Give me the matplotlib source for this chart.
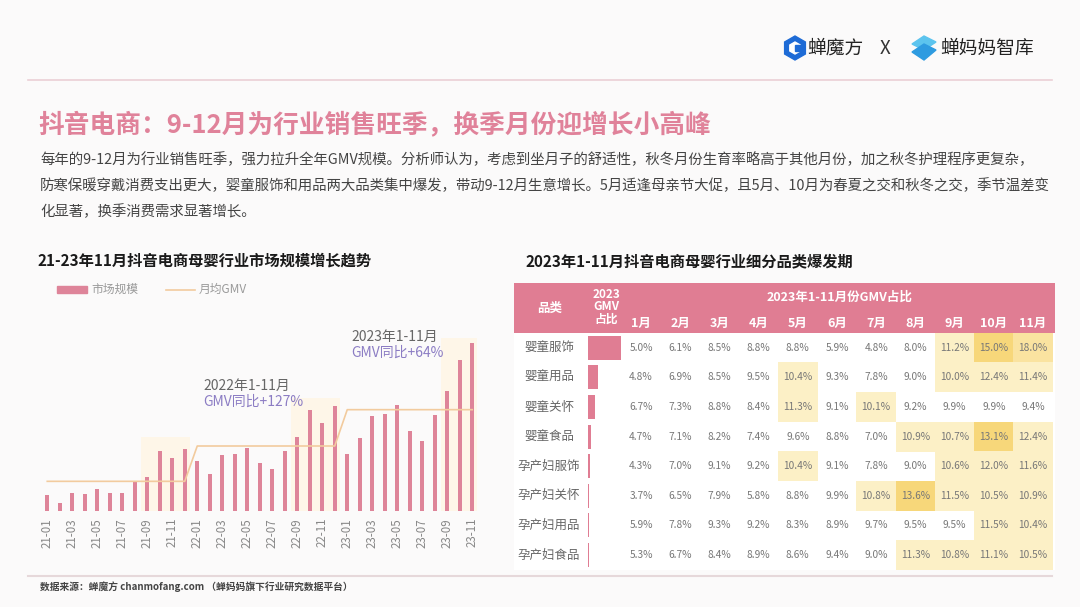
import matplotlib
matplotlib.use("Agg")
import matplotlib.pyplot as plt
from matplotlib.patches import Rectangle, RegularPolygon, Polygon

plt.rcParams['font.family'] = ['Noto Sans CJK SC', 'DejaVu Sans']

# ---- data: left chart (bar heights, arbitrary units)
months = ['21-01', '21-02', '21-03', '21-04', '21-05', '21-06', '21-07', '21-08', '21-09', '21-10', '21-11', '21-12',
          '22-01', '22-02', '22-03', '22-04', '22-05', '22-06', '22-07', '22-08', '22-09', '22-10', '22-11', '22-12',
          '23-01', '23-02', '23-03', '23-04', '23-05', '23-06', '23-07', '23-08', '23-09', '23-10', '23-11']
market = [47, 25, 54, 52, 65, 53, 53, 89, 103, 179, 159, 187,
          151, 110, 167, 172, 190, 144, 125, 179, 222, 304, 265, 316,
          172, 218, 285, 292, 317, 240, 210, 288, 360, 454, 504]
avg_gmv = [89, 195, 304]            # monthly average per year
year_first = [0, 12, 24]            # index of first month of each year
year_last = [11, 23, 34]
peak_first = [8, 20, 32]            # shaded peak seasons (Sep-Dec)
peak_last = [11, 23, 34]
peak_top = [222, 340, 520]

# ---- data: right table
categories = ['婴童服饰', '婴童用品', '婴童关怀', '婴童食品', '孕产妇服饰', '孕产妇关怀', '孕产妇用品', '孕产妇食品']
gmv_share = [57, 17, 12, 5.7, 4.0, 1.7, 1.2, 0.9]
month_cols = ['1月', '2月', '3月', '4月', '5月', '6月', '7月', '8月', '9月', '10月', '11月']
shares = [
    [5.0, 6.1, 8.5, 8.8, 8.8, 5.9, 4.8, 8.0, 11.2, 15.0, 18.0],
    [4.8, 6.9, 8.5, 9.5, 10.4, 9.3, 7.8, 9.0, 10.0, 12.4, 11.4],
    [6.7, 7.3, 8.8, 8.4, 11.3, 9.1, 10.1, 9.2, 9.9, 9.9, 9.4],
    [4.7, 7.1, 8.2, 7.4, 9.6, 8.8, 7.0, 10.9, 10.7, 13.1, 12.4],
    [4.3, 7.0, 9.1, 9.2, 10.4, 9.1, 7.8, 9.0, 10.6, 12.0, 11.6],
    [3.7, 6.5, 7.9, 5.8, 8.8, 9.9, 10.8, 13.6, 11.5, 10.5, 10.9],
    [5.9, 7.8, 9.3, 9.2, 8.3, 8.9, 9.7, 9.5, 9.5, 11.5, 10.4],
    [5.3, 6.7, 8.4, 8.9, 8.6, 9.4, 9.0, 11.3, 10.8, 11.1, 10.5],
]

PINK = '#E07D93'
BAR = '#DE8499'
W, H = 1080, 607

fig = plt.figure(figsize=(10.8, 6.07), dpi=100, facecolor='#FBFAFA')
bg = fig.add_axes([0, 0, 1, 1])
bg.set_xlim(0, W)
bg.set_ylim(H, 0)
bg.axis('off')

# header / logos
bg.add_patch(RegularPolygon((795, 48), 6, radius=12, color='#1E6BD6'))
bg.add_patch(RegularPolygon((795, 48), 6, radius=6, color='white'))
bg.add_patch(Rectangle((795, 45), 8, 6, color='#1E6BD6'))
bg.text(807, 48, '蝉魔方', fontsize=13.5, color='#222222', va='center', ha='left', fontweight='medium')
bg.text(885, 48, 'X', fontsize=13.5, color='#333333', va='center', ha='center', fontweight='light')
bg.add_patch(Polygon([[912, 44], [924, 36], [936, 42], [924, 50]], color='#5CC4EE'))
bg.add_patch(Polygon([[912, 52], [924, 44], [936, 50], [924, 60]], color='#2E9BE0'))
bg.text(940, 48, '蝉妈妈智库', fontsize=13.5, color='#222222', va='center', ha='left', fontweight='medium')
bg.plot([28, 1052], [80, 80], color='#EBCFD5', lw=1.2)

bg.text(38, 125, '抖音电商：9-12月为行业销售旺季，换季月份迎增长小高峰', fontsize=18.5,
        color='#E0829A', fontweight='bold', va='center', ha='left')
para = ['每年的9-12月为行业销售旺季，强力拉升全年GMV规模。分析师认为，考虑到坐月子的舒适性，秋冬月份生育率略高于其他月份，加之秋冬护理程序更复杂，',
        '防寒保暖穿戴消费支出更大，婴童服饰和用品两大品类集中爆发，带动9-12月生意增长。5月适逢母亲节大促，且5月、10月为春夏之交和秋冬之交，季节温差变',
        '化显著，换季消费需求显著增长。']
for k, line in enumerate(para):
    bg.text(40, 160 + 26 * k, line, fontsize=10.4, color='#444444', va='center', ha='left')

bg.text(38, 261, '21-23年11月抖音电商母婴行业市场规模增长趋势', fontsize=11, color='#1A1A1A',
        fontweight='bold', va='center', ha='left')
bg.text(525, 261, '2023年1-11月抖音电商母婴行业细分品类爆发期', fontsize=11, color='#1A1A1A',
        fontweight='bold', va='center', ha='left')

# legend
bg.add_patch(Rectangle((57, 286), 30, 7, color=BAR))
bg.text(91, 289.5, '市场规模', fontsize=8.5, color='#999999', va='center', ha='left')
bg.plot([166, 195], [289.5, 289.5], color='#F2CB9E', lw=1.2)
bg.text(199, 289.5, '月均GMV', fontsize=8.5, color='#999999', va='center', ha='left')

# ---- left bar chart
ax = fig.add_axes([35 / W, 1 - 511 / H, 448 / W, 181 / H])
ax.set_facecolor('none')
xs = list(range(len(market)))
for a, b, t in zip(peak_first, peak_last, peak_top):
    ax.add_patch(Rectangle((a - 0.5, 0), b - a + 0.9, t, color='#FEF6E8', lw=0, zorder=0))
ax.bar(xs, market, width=0.33, color=BAR, zorder=2)
lx, ly = [], []
for f, l, v in zip(year_first, year_last, avg_gmv):
    lx += [f, l]
    ly += [v, v]
ax.plot(lx, ly, color='#F2CB9E', lw=1.2, zorder=3)
ax.set_xlim(-0.98, 34.86)
ax.set_ylim(0, 543)
ax.set_xticks(xs[::2])
ax.set_xticklabels(months[::2], rotation=90, fontsize=8.3, color='#888888')
ax.tick_params(axis='x', length=0, pad=5)
ax.set_yticks([])
for s in ax.spines.values():
    s.set_visible(False)

notes = [(203, 386, '2022年1-11月', '#666666'), (203, 402, 'GMV同比+127%', '#8C7DC4'),
         (351, 337, '2023年1-11月', '#666666'), (351, 353, 'GMV同比+64%', '#8C7DC4')]
for x, y, s, c in notes:
    ax.text(x, y, s, fontsize=10, color=c, va='center', ha='left', transform=bg.transData,
            zorder=5, clip_on=False)

# ---- right table
t_left, t_right, h_top, h_bot = 514, 1055, 283, 333
row_h = 29.6
col_w = 39.2
col_x = [641 + col_w * j for j in range(len(month_cols))]
row_y = [h_bot + row_h * (i + 0.5) for i in range(len(categories))]

bg.add_patch(Rectangle((t_left, h_top), t_right - t_left, h_bot - h_top, color=PINK, lw=0))
bg.add_patch(Rectangle((t_left, h_bot), t_right - t_left, row_h * len(categories), color='white', lw=0))
bg.text(550, 308, '品类', fontsize=9, color='white', fontweight='bold', ha='center', va='center')
bg.text(606, 307, '2023\nGMV\n占比', fontsize=8.5, color='white', fontweight='bold', ha='center', va='center',
        linespacing=0.95)
bg.text(840, 297, '2023年1-11月份GMV占比', fontsize=9, color='white', fontweight='bold', ha='center', va='center')
for x, m in zip(col_x, month_cols):
    bg.text(x, 323, m, fontsize=9, color='white', fontweight='bold', ha='center', va='center')

for i, (cat, sh, row) in enumerate(zip(categories, gmv_share, shares)):
    y = row_y[i]
    bg.text(549, y, cat, fontsize=9, color='#666666', ha='center', va='center')
    bg.add_patch(Rectangle((588, y - 12), sh / max(gmv_share) * 33, 24, color=PINK, lw=0))
    for j, v in enumerate(row):
        if v >= 16:
            c = '#FAE3A0'
        elif v >= 13:
            c = '#F7D77A'
        elif v >= 10:
            c = '#FCF0C6'
        else:
            c = None
        if c:
            bg.add_patch(Rectangle((col_x[j] - col_w / 2 - 0.3, y - row_h / 2 - 0.3), col_w + 0.6, row_h + 0.6,
                                   color=c, lw=0))
        bg.text(col_x[j], y, f'{v:.1f}%', fontsize=7.3, color='#777777', ha='center', va='center')

# footer
bg.plot([28, 1052], [576, 576], color='#E6D8DA', lw=1.5)
bg.text(40, 587, '数据来源：蝉魔方 chanmofang.com （蝉妈妈旗下行业研究数据平台）', fontsize=7, color='#444444',
        fontweight='bold', ha='left', va='center')

fig.savefig('out.png', dpi=100, facecolor=fig.get_facecolor())
